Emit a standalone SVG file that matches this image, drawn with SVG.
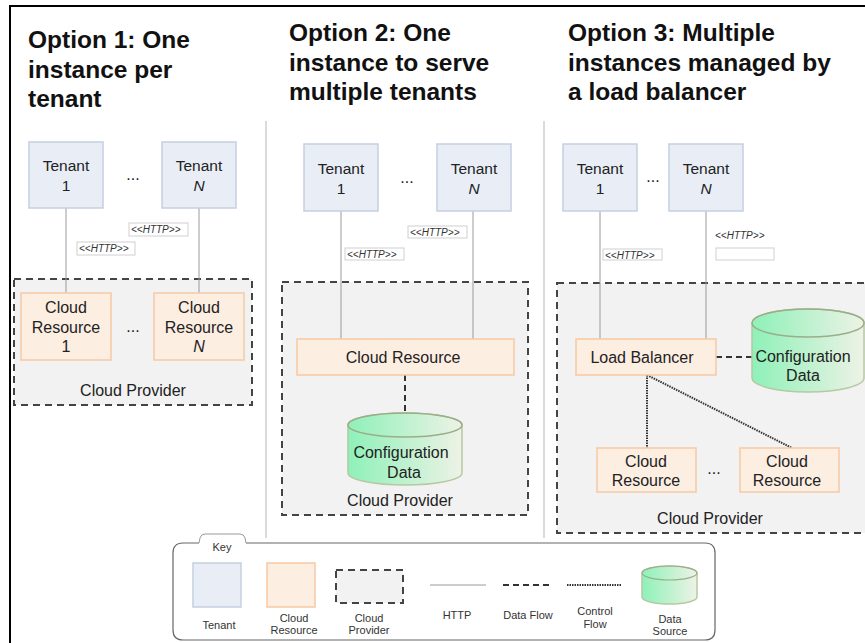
<svg xmlns="http://www.w3.org/2000/svg" width="865" height="643" viewBox="0 0 865 643">
<style>
.title{font-family:"Liberation Sans",Arial,sans-serif;font-weight:bold;font-size:24.5px;fill:#111}
.t{font-family:"Liberation Sans",Arial,sans-serif;font-size:16px;fill:#222;text-anchor:middle}
.tn{font-family:"Liberation Sans",Arial,sans-serif;font-size:15.5px;fill:#222;text-anchor:middle}
.k{font-family:"Liberation Sans",Arial,sans-serif;font-size:11px;fill:#333;text-anchor:middle}
.h{font-family:"Liberation Sans",Arial,sans-serif;font-size:10px;font-style:italic;fill:#333}
.tenant{fill:#e9eef6;stroke:#c3cfe0;stroke-width:1.5}
.res{fill:#fdeee2;stroke:#f6c9a4;stroke-width:1.5}
.prov{fill:#f2f2f2;stroke:#444;stroke-width:2;stroke-dasharray:7,5}
.http{stroke:#9a9a9a;stroke-width:1;fill:none}
.lbl{fill:#fff;stroke:#d0d0d0;stroke-width:1}
.data{stroke:#333;stroke-width:2;stroke-dasharray:6,4;fill:none}
.ctrl{stroke:#333;stroke-width:2;stroke-dasharray:1.5,1;fill:none}
.cyl{fill:url(#g);stroke:#b5c9a2;stroke-width:1.5}
.cyltop{fill:#e9efe0;stroke:#9aae8a;stroke-width:1.5}
.div{stroke:#cfcfcf;stroke-width:1.5}
</style>
<defs>
<linearGradient id="g" x1="0" y1="0" x2="1" y2="0">
<stop offset="0" stop-color="#8ef1b8"/>
<stop offset="1" stop-color="#eef2e6"/>
</linearGradient>
</defs>
<rect x="0" y="0" width="865" height="643" fill="#fff"/>
<g id="frame">
<line x1="9" y1="6" x2="865" y2="6" stroke="#000" stroke-width="2"/>
<line x1="10" y1="6" x2="10" y2="643" stroke="#000" stroke-width="2"/>
<line class="div" x1="266" y1="121" x2="266" y2="538"/>
<line class="div" x1="544" y1="121" x2="544" y2="538"/>
</g>
<g id="titles">
<text class="title" x="28" y="48">Option 1: One</text>
<text class="title" x="28" y="78">instance per</text>
<text class="title" x="28" y="107">tenant</text>
<text class="title" x="289" y="41">Option 2: One</text>
<text class="title" x="289" y="71">instance to serve</text>
<text class="title" x="289" y="100">multiple tenants</text>
<text class="title" x="568" y="41">Option 3: Multiple</text>
<text class="title" x="568" y="71">instances managed by</text>
<text class="title" x="568" y="100">a load balancer</text>
</g>
<!-- Providers (backgrounds) -->
<g id="provider1"><rect class="prov" x="14" y="279" width="238" height="126"/><text class="t" x="133" y="396">Cloud Provider</text></g>
<g id="provider2"><rect class="prov" x="282" y="282" width="246" height="233"/><text class="t" x="400" y="506">Cloud Provider</text></g>
<g id="provider3"><rect class="prov" x="557" y="283" width="315" height="250"/><text class="t" x="710" y="524">Cloud Provider</text></g>
<g id="connectors">
<line class="http" x1="66" y1="208" x2="66" y2="293"/>
<line class="http" x1="199" y1="208" x2="199" y2="293"/>
<line class="http" x1="341" y1="211" x2="341" y2="339"/>
<line class="http" x1="473" y1="211" x2="473" y2="339"/>
<line class="http" x1="600" y1="211" x2="600" y2="339"/>
<line class="http" x1="706" y1="211" x2="706" y2="339"/>
<line class="data" x1="405" y1="375" x2="405" y2="420"/>
<line class="data" x1="716" y1="357" x2="752" y2="357"/>
<line class="ctrl" x1="647" y1="375" x2="647" y2="448"/>
<line class="ctrl" x1="647" y1="375" x2="792" y2="448"/>
<rect class="lbl" x="129" y="223" width="59" height="13"/><text class="h" x="131" y="233">&lt;&lt;HTTP&gt;&gt;</text>
<rect class="lbl" x="77" y="242" width="58" height="13"/><text class="h" x="79" y="252">&lt;&lt;HTTP&gt;&gt;</text>
<rect class="lbl" x="408" y="226" width="59" height="12"/><text class="h" x="410" y="236">&lt;&lt;HTTP&gt;&gt;</text>
<rect class="lbl" x="345" y="248" width="59" height="12"/><text class="h" x="347" y="258">&lt;&lt;HTTP&gt;&gt;</text>
<rect class="lbl" x="603" y="249" width="59" height="11"/><text class="h" x="605" y="259">&lt;&lt;HTTP&gt;&gt;</text>
<text class="h" x="715" y="239">&lt;&lt;HTTP&gt;&gt;</text>
<rect class="lbl" x="716" y="248" width="58" height="12"/>
</g>
<!-- Option 1 -->
<g id="o1-tenant1"><rect class="tenant" x="29" y="142" width="74" height="66"/><text class="tn" x="66" y="171">Tenant</text><text class="tn" x="66" y="191">1</text></g>
<g id="o1-dots1"><text class="t" x="133" y="180">...</text></g>
<g id="o1-tenantN"><rect class="tenant" x="162" y="142" width="74" height="66"/><text class="tn" x="199" y="171">Tenant</text><text class="tn" x="199" y="191" font-style="italic">N</text></g>
<g id="o1-res1"><rect class="res" x="21" y="293" width="90" height="67"/><text class="t" x="66" y="313">Cloud</text><text class="t" x="66" y="333">Resource</text><text class="t" x="66" y="352">1</text></g>
<g id="o1-dots2"><text class="t" x="133" y="332">...</text></g>
<g id="o1-resN"><rect class="res" x="154" y="293" width="90" height="67"/><text class="t" x="199" y="313">Cloud</text><text class="t" x="199" y="333">Resource</text><text class="t" x="199" y="352" font-style="italic">N</text></g>
<!-- Option 2 -->
<g id="o2-tenant1"><rect class="tenant" x="304" y="144" width="74" height="67"/><text class="tn" x="341" y="174">Tenant</text><text class="tn" x="341" y="194">1</text></g>
<g id="o2-dots"><text class="t" x="407" y="183">...</text></g>
<g id="o2-tenantN"><rect class="tenant" x="437" y="144" width="74" height="67"/><text class="tn" x="474" y="174">Tenant</text><text class="tn" x="474" y="194" font-style="italic">N</text></g>
<g id="o2-res"><rect class="res" x="297" y="339" width="217" height="36"/><text class="t" x="403" y="363">Cloud Resource</text></g>
<g id="o2-config">
<path class="cyl" d="M348,425 A57,12 0 0 1 462,425 V473 A57,12 0 0 1 348,473 Z"/>
<ellipse cx="405" cy="425" rx="57" ry="12" fill="none" stroke="#9aae8a" stroke-width="1.5"/>
<text class="t" x="401" y="458">Configuration</text><text class="t" x="404" y="478">Data</text>
</g>
<!-- Option 3 -->
<g id="o3-tenant1"><rect class="tenant" x="563" y="144" width="74" height="67"/><text class="tn" x="600" y="174">Tenant</text><text class="tn" x="600" y="194">1</text></g>
<g id="o3-dots1"><text class="t" x="653" y="182">...</text></g>
<g id="o3-tenantN"><rect class="tenant" x="669" y="144" width="74" height="67"/><text class="tn" x="706" y="174">Tenant</text><text class="tn" x="706" y="194" font-style="italic">N</text></g>
<g id="o3-lb"><rect class="res" x="576" y="339" width="140" height="36"/><text class="t" x="642" y="363">Load Balancer</text></g>
<g id="o3-config">
<path class="cyl" d="M752,323 A56,14 0 0 1 864,323 V378 A56,14 0 0 1 752,378 Z"/>
<ellipse cx="808" cy="323" rx="56" ry="14" fill="none" stroke="#9aae8a" stroke-width="1.5"/>
<text class="t" x="803" y="362">Configuration</text><text class="t" x="803" y="381">Data</text>
</g>
<g id="o3-res1"><rect class="res" x="597" y="448" width="99" height="44"/><text class="t" x="646" y="467">Cloud</text><text class="t" x="646" y="486">Resource</text></g>
<g id="o3-dots2"><text class="t" x="714" y="474">...</text></g>
<g id="o3-res2"><rect class="res" x="740" y="448" width="99" height="44"/><text class="t" x="787" y="467">Cloud</text><text class="t" x="787" y="486">Resource</text></g>
<!-- Key -->
<g id="key">
<path d="M199,543 L183,543 Q173,543 173,553 L173,630 Q173,640 183,640 L705,640 Q715,640 715,630 L715,553 Q715,543 705,543 L246,543" fill="#fff" stroke="#666" stroke-width="1.2"/>
<path d="M199,543 L200,538 Q201,534 205,534 L240,534 Q244,534 245,538 L246,543" fill="#fff" stroke="#999" stroke-width="1"/>
<text class="k" x="222" y="551">Key</text>
<rect class="tenant" x="193" y="563" width="48" height="44"/><text class="k" x="219" y="629">Tenant</text>
<rect class="res" x="267" y="563" width="48" height="44"/><text class="k" x="294" y="622">Cloud</text><text class="k" x="294" y="634">Resource</text>
<rect class="prov" x="336" y="570" width="67" height="33" stroke-dasharray="6,4"/><text class="k" x="369" y="622">Cloud</text><text class="k" x="369" y="634">Provider</text>
<line class="http" x1="430" y1="585" x2="486" y2="585" stroke="#777"/><text class="k" x="457" y="619">HTTP</text>
<line class="data" x1="503" y1="585" x2="553" y2="585"/><text class="k" x="528" y="619">Data Flow</text>
<line class="ctrl" x1="567" y1="585" x2="621" y2="585" stroke-width="1.5"/><text class="k" x="595" y="615">Control</text><text class="k" x="595" y="628">Flow</text>
<path class="cyl" d="M642,573 A27.5,7 0 0 1 697,573 V597 A27.5,7 0 0 1 642,597 Z"/>
<ellipse cx="669.5" cy="573" rx="27.5" ry="7" fill="none" stroke="#9aae8a" stroke-width="1.2"/>
<text class="k" x="670" y="623">Data</text><text class="k" x="670" y="635">Source</text>
</g>
</svg>
